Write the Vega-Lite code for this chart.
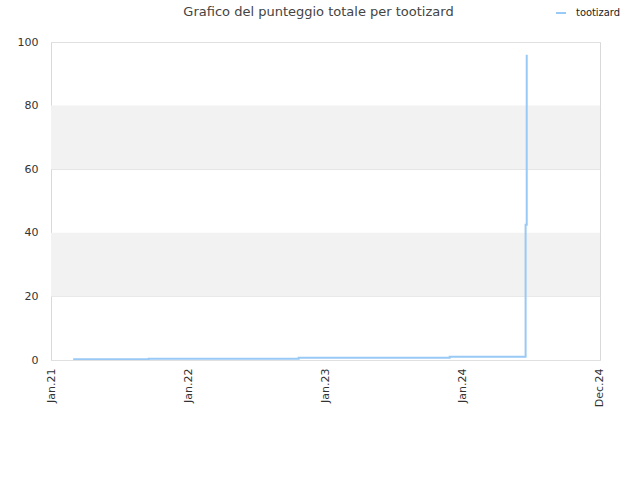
{
  "$schema": "https://vega.github.io/schema/vega-lite/v6.json",
  "autosize": "none",
  "width": 549,
  "height": 318,
  "padding": {"left": 51, "top": 42, "right": 40, "bottom": 120},
  "background": "white",
  "config": {
    "font": "DejaVu Sans",
    "view": {"stroke": "#d9d9d9", "strokeWidth": 1}
  },
  "title": {
    "text": "Grafico del punteggio totale per tootizard",
    "fontSize": 13,
    "fontWeight": "normal",
    "color": "#444444",
    "offset": -12,
    "dx": -7
  },
  "datasets": {
    "bands": [
      {"lo": 20, "hi": 40},
      {"lo": 60, "hi": 80}
    ],
    "scores": [
      {"seq": 1, "date": "2021-03-01", "score": 0.2, "player": "tootizard"},
      {"seq": 2, "date": "2021-09-18", "score": 0.4, "player": "tootizard"},
      {"seq": 3, "date": "2022-10-22", "score": 0.7, "player": "tootizard"},
      {"seq": 4, "date": "2023-11-28", "score": 1.0, "player": "tootizard"},
      {"seq": 5, "date": "2024-06-17", "score": 3.1, "player": "tootizard"},
      {"seq": 6, "date": "2024-06-17", "score": 6.8, "player": "tootizard"},
      {"seq": 7, "date": "2024-06-17", "score": 10, "player": "tootizard"},
      {"seq": 8, "date": "2024-06-17", "score": 13.8, "player": "tootizard"},
      {"seq": 9, "date": "2024-06-17", "score": 18.9, "player": "tootizard"},
      {"seq": 10, "date": "2024-06-17", "score": 23.8, "player": "tootizard"},
      {"seq": 11, "date": "2024-06-17", "score": 35.6, "player": "tootizard"},
      {"seq": 12, "date": "2024-06-17", "score": 42.5, "player": "tootizard"},
      {"seq": 13, "date": "2024-06-20", "score": 49, "player": "tootizard"},
      {"seq": 14, "date": "2024-06-20", "score": 62.9, "player": "tootizard"},
      {"seq": 15, "date": "2024-06-20", "score": 78.9, "player": "tootizard"},
      {"seq": 16, "date": "2024-06-20", "score": 96, "player": "tootizard"}
    ]
  },
  "layer": [
    {
      "data": {"name": "bands"},
      "mark": {"type": "rect", "color": "#f2f2f2"},
      "encoding": {
        "y": {"field": "lo", "type": "quantitative", "scale": {"domain": [0, 100]}},
        "y2": {"field": "hi"}
      }
    },
    {
      "data": {"name": "scores"},
      "mark": {"type": "line", "interpolate": "step-after", "strokeWidth": 2, "clip": true},
      "encoding": {
        "x": {
          "field": "date",
          "type": "temporal",
          "scale": {"domain": ["2021-01-01T00:00:00", "2025-01-01T00:00:00"]},
          "axis": {
            "title": null,
            "values": [
              {"year": 2021, "month": 1, "date": 1},
              {"year": 2022, "month": 1, "date": 1},
              {"year": 2023, "month": 1, "date": 1},
              {"year": 2024, "month": 1, "date": 1},
              {"year": 2024, "month": 12, "date": 31, "hours": 23}
            ],
            "format": "%b.%y",
            "labelAngle": 270,
            "labelAlign": "right",
            "labelBaseline": "middle",
            "labelPadding": 8,
            "labelFontSize": 11,
            "labelColor": "#333333",
            "ticks": false,
            "domain": false,
            "grid": false
          }
        },
        "y": {
          "field": "score",
          "type": "quantitative",
          "scale": {"domain": [0, 100]},
          "axis": {
            "title": null,
            "values": [0, 20, 40, 60, 80, 100],
            "labelPadding": 13,
            "labelFontSize": 11,
            "labelColor": "#333333",
            "ticks": false,
            "domain": false,
            "grid": true,
            "gridColor": "#e0e0e0"
          }
        },
        "order": {"field": "seq"},
        "color": {
          "field": "player",
          "type": "nominal",
          "scale": {"range": ["#99c9f5"]},
          "legend": {
            "title": null,
            "orient": "none",
            "legendX": 504,
            "legendY": -35,
            "symbolType": "stroke",
            "symbolSize": 100,
            "symbolStrokeWidth": 2,
            "labelOffset": 9,
            "labelFontSize": 11,
            "labelColor": "#222222",
            "labelFont": "DejaVu Sans Condensed"
          }
        }
      }
    }
  ]
}
